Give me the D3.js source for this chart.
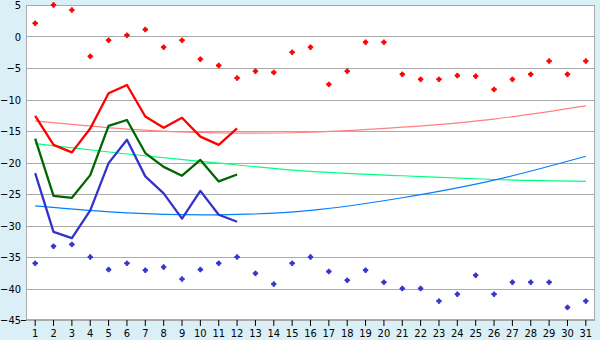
<!DOCTYPE html>
<html lang="en">
<head>
    <meta charset="UTF-8">
    <title>Daily values</title>
    <style>
        body { margin: 0; background: #daeff6; }
        svg { display: block; }
        text { font-family: "DejaVu Sans Condensed", "DejaVu Sans", sans-serif; font-size: 11px; fill: #000; }
    </style>
</head>
<body>
<script src="https://cdn.jsdelivr.net/npm/d3@7"></script>
<script>
    // days of the month
    const days = d3.range(1, 32);

    // scatter series (all 31 days)
    const redPoints = [2.1, 5.0, 4.2, -3.15, -0.6, 0.2, 1.1, -1.7, -0.6, -3.6, -4.6, -6.6, -5.5, -5.7, -2.5,
        -1.7, -7.6, -5.5, -0.9, -0.9, -6.0, -6.8, -6.8, -6.2, -6.3, -8.4, -6.8, -6.0, -3.9, -6.0, -3.9];
    const bluePoints = [-36.0, -33.3, -33.0, -35.0, -37.0, -36.0, -37.1, -36.6, -38.5, -37.0, -36.0, -35.0, -37.6, -39.3, -36.0,
        -35.0, -37.3, -38.7, -37.1, -39.0, -40.0, -40.0, -42.0, -40.9, -37.9, -40.9, -39.0, -39.0, -39.0, -43.0, -42.0];

    // line series (days 1-12)
    const redLine = [-12.6, -17.2, -18.4, -14.6, -9.0, -7.7, -12.7, -14.5, -12.9, -15.9, -17.2, -14.6];
    const greenLine = [-16.2, -25.3, -25.6, -22.0, -14.2, -13.25, -18.5, -20.7, -22.1, -19.6, -23.0, -21.9];
    const blueLine = [-21.7, -31.0, -32.0, -27.6, -20.1, -16.4, -22.2, -24.9, -28.9, -24.5, -28.3, -29.4];

    // trend curves, read at a few days
    const trendDays = [1, 6, 11, 16, 21, 26, 31];
    const redTrend = [-13.4, -14.7, -15.3, -15.2, -14.4, -13.1, -11.0];
    const greenTrend = [-17.0, -18.65, -20.1, -21.4, -22.1, -22.7, -23.0];
    const blueTrend = [-26.9, -28.0, -28.3, -27.6, -25.6, -22.8, -19.0];

    const yTicks = d3.range(-45, 6, 5);

    var margin = {top: 5, right: 5, bottom: 20, left: 26},
        width = 600 - margin.left - margin.right,
        height = 340 - margin.top - margin.bottom;

    var xScale = d3.scaleBand().domain(days).range([0, width]);
    var yScale = d3.scaleLinear().domain([-45, 5]).range([height, 0]);
    var cx = d => xScale(d) + xScale.bandwidth() / 2;

    var svg = d3.select("body").append("svg")
        .attr("width", 600)
        .attr("height", 340);
    var g = svg.append("g")
        .attr("transform", `translate(${margin.left},${margin.top})`);

    // plot background
    g.append("rect")
        .attr("width", width).attr("height", height)
        .attr("fill", "#fff");

    // gridlines
    g.append("g").selectAll("line")
        .data(yTicks)
        .join("line")
            .attr("x1", 0).attr("x2", width)
            .attr("y1", d => Math.round(yScale(d)) + 0.5)
            .attr("y2", d => Math.round(yScale(d)) + 0.5)
            .attr("stroke", "#aaa");

    // frame
    g.append("rect")
        .attr("x", 0.5).attr("y", 0.5)
        .attr("width", width - 1).attr("height", height - 1)
        .attr("fill", "none").attr("stroke", "#aaa");

    // axes
    var yAxis = d3.axisLeft(yScale).tickValues(yTicks).tickSize(0).tickPadding(5);
    g.append("g").call(yAxis).call(a => a.select(".domain").remove())
        .selectAll("text").attr("fill", null);

    var xAxis = d3.axisBottom(xScale).tickSize(6).tickPadding(3);
    var xg = g.append("g").attr("transform", `translate(0,${height})`).call(xAxis);
    xg.select(".domain").remove();
    xg.selectAll("text").attr("fill", null);
    xg.selectAll("line").attr("stroke", "#000");

    // small left tick at the bottom
    g.append("line")
        .attr("x1", -5).attr("x2", 0)
        .attr("y1", height + 0.5).attr("y2", height + 0.5)
        .attr("stroke", "#000");

    // trend curves
    const trends = [
        {values: redTrend, color: "#ff8080"},
        {values: greenTrend, color: "#00ff80"},
        {values: blueTrend, color: "#0080ff"}
    ];
    var trendLine = d3.line()
        .x((d, i) => cx(trendDays[i]))
        .y(d => yScale(d))
        .curve(d3.curveNatural);
    g.append("g").selectAll("path")
        .data(trends)
        .join("path")
            .attr("d", d => trendLine(d.values))
            .attr("fill", "none")
            .attr("stroke", d => d.color)
            .attr("stroke-width", 1.2);

    // thick lines
    const lines = [
        {values: redLine, color: "#ff0000"},
        {values: greenLine, color: "#006600"},
        {values: blueLine, color: "#3333cc"}
    ];
    var valueLine = d3.line()
        .x((d, i) => cx(days[i]))
        .y(d => yScale(d));
    g.append("g").selectAll("path")
        .data(lines)
        .join("path")
            .attr("d", d => valueLine(d.values))
            .attr("fill", "none")
            .attr("stroke", d => d.color)
            .attr("stroke-width", 2.3)
            .attr("stroke-linejoin", "round");

    // scatter markers
    var marker = d3.symbol().type(d3.symbolCross).size(11);
    const scatters = [
        {values: redPoints, color: "#ff0000"},
        {values: bluePoints, color: "#3333cc"}
    ];
    scatters.forEach(s => {
        g.append("g").selectAll("path")
            .data(s.values)
            .join("path")
                .attr("transform", (d, i) => `translate(${cx(days[i])},${yScale(d)})`)
                .attr("d", marker)
                .attr("fill", s.color)
                .attr("stroke", s.color)
                .attr("stroke-width", 1);
    });
</script>
</body>
</html>
